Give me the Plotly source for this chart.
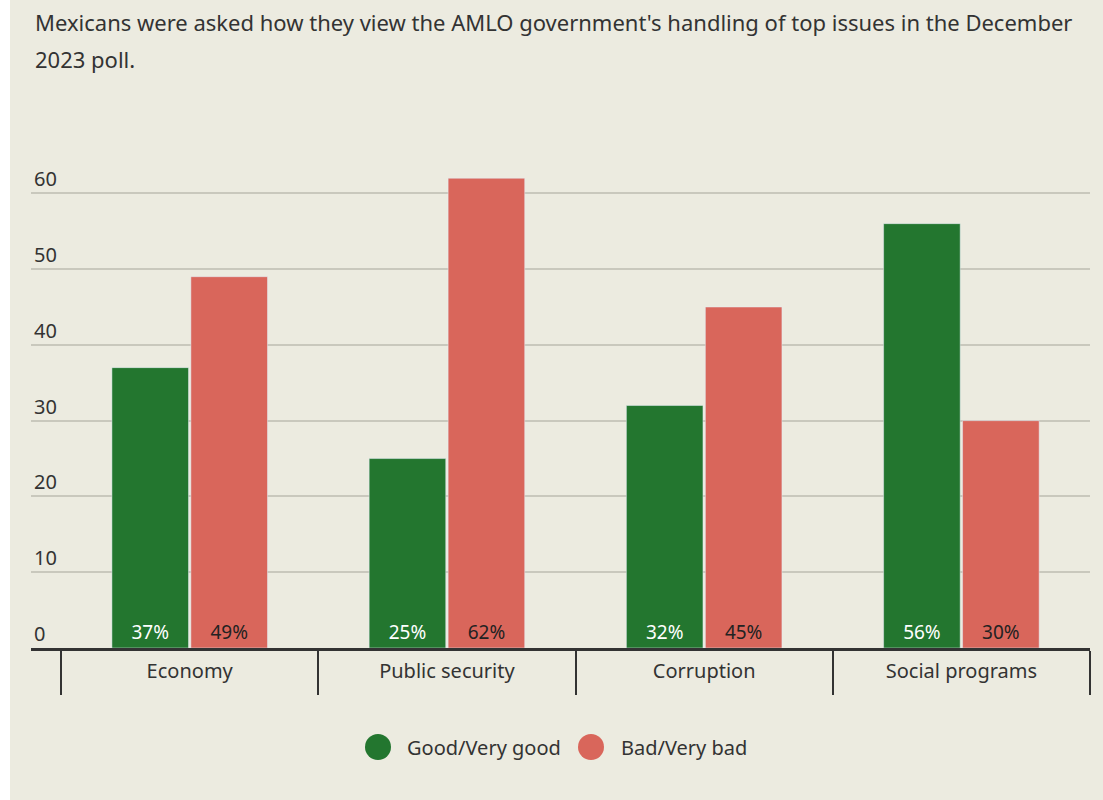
import plotly.graph_objects as go

# Poll results (percent), December 2023
categories = ["Economy", "Public security", "Corruption", "Social programs"]
good = [37, 25, 32, 56]
bad = [49, 62, 45, 30]
series_names = ["Good/Very good", "Bad/Very bad"]
y_ticks = [0, 10, 20, 30, 40, 50, 60]

GREEN = "#23762f"
RED = "#d9665b"
BG = "#ecebe0"
FONT = "Noto Sans"

W, H = 1103, 800
ML, MR, MT, MB = 31, 13, 160, 152
PW, PH = W - ML - MR, H - MT - MB


def px_x(px):
    return (px - ML) / PW


def px_y(py):
    return (H - MB - py) / PH


fig = go.Figure()
fig.add_trace(go.Bar(
    x=categories, y=good, name=series_names[0], marker_color=GREEN,
    text=[f"{v}%" for v in good], textposition="inside", insidetextanchor="start",
    textangle=0, textfont=dict(color="white", size=19, family=FONT),
    showlegend=False,
))
fig.add_trace(go.Bar(
    x=categories, y=bad, name=series_names[1], marker_color=RED,
    text=[f"{v}%" for v in bad], textposition="inside", insidetextanchor="start",
    textangle=0, textfont=dict(color="#222222", size=19, family=FONT),
    showlegend=False,
))

shapes = [
    # white strip along the left edge of the page
    dict(type="rect", xref="paper", yref="paper", x0=px_x(0), x1=px_x(10),
         y0=px_y(H), y1=px_y(0), fillcolor="white", line_width=0, layer="below"),
]
annotations = [
    dict(text="Mexicans were asked how they view the AMLO government's handling of top issues in the December",
         xref="paper", yref="paper", x=px_x(33), y=px_y(22), xanchor="left", yanchor="middle",
         showarrow=False, font=dict(size=22, color="#333333", family=FONT)),
    dict(text="2023 poll.",
         xref="paper", yref="paper", x=px_x(33), y=px_y(59), xanchor="left", yanchor="middle",
         showarrow=False, font=dict(size=22, color="#333333", family=FONT)),
]

# legend drawn as circles plus labels below the axis
for color, label, cx, tx in [(GREEN, series_names[0], 378, 405), (RED, series_names[1], 591, 619)]:
    r = 13
    shapes.append(dict(type="circle", xref="paper", yref="paper",
                       x0=px_x(cx - r), x1=px_x(cx + r), y0=px_y(747 + r), y1=px_y(747 - r),
                       fillcolor=color, line_width=0))
    annotations.append(dict(text=label, xref="paper", yref="paper", x=px_x(tx), y=px_y(747),
                            xanchor="left", yanchor="middle", showarrow=False,
                            font=dict(size=20, color="#333333", family=FONT)))

fig.update_layout(
    width=W, height=H,
    margin=dict(l=ML, r=MR, t=MT, b=MB, pad=0),
    paper_bgcolor=BG, plot_bgcolor=BG,
    barmode="group", bargap=0.386, bargroupgap=0.03,
    font=dict(family=FONT, color="#333333"),
    shapes=shapes, annotations=annotations,
    showlegend=False,
)
fig.update_xaxes(
    range=[-0.617, 3.5], tickson="boundaries", ticks="outside", ticklen=44,
    tickwidth=1.5, tickcolor="#333333", showline=True, linecolor="#333333", linewidth=3,
    showgrid=False, tickfont=dict(size=20, color="#333333"), ticklabelstandoff=3,
)
fig.update_yaxes(
    range=[0, 64.4], tickvals=y_ticks, ticklabelposition="inside top",
    showgrid=True, gridcolor="#c9c8bd", gridwidth=1.5, zeroline=False,
    tickfont=dict(size=20, color="#333333"), ticks="",
)

fig.write_html("out.html")
